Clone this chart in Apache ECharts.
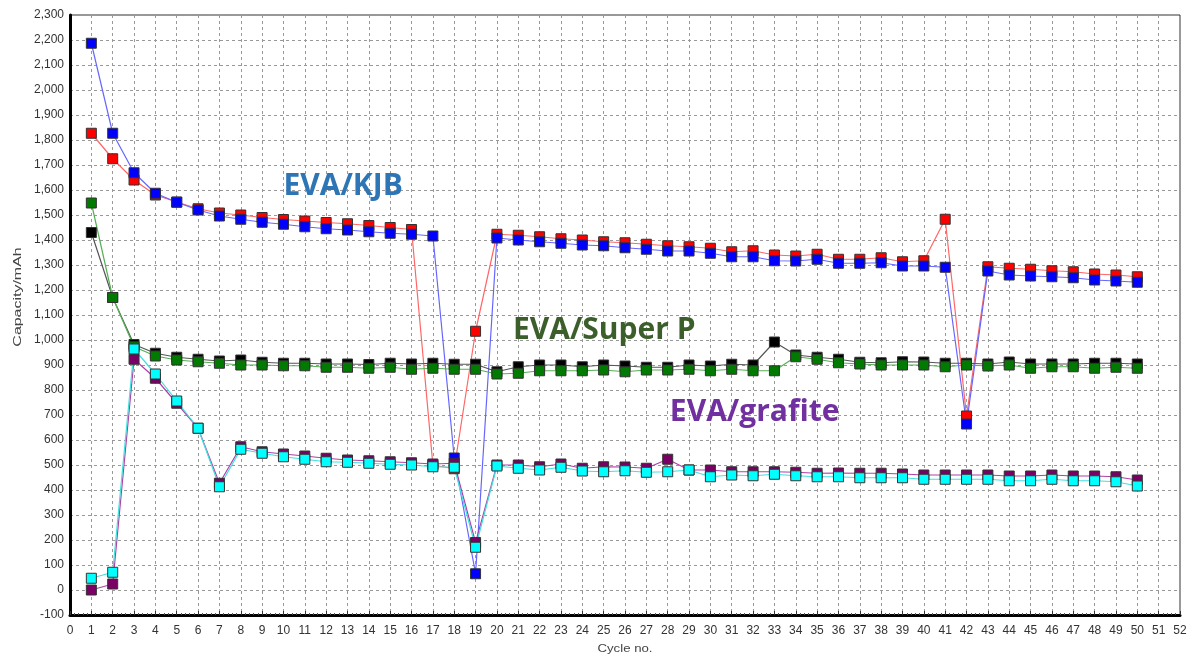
<!DOCTYPE html>
<html><head><meta charset="utf-8">
<script src="https://cdn.jsdelivr.net/npm/echarts@6/dist/echarts.min.js"></script>
<style>html,body{margin:0;padding:0;background:#fff}#c{width:1194px;height:657px}</style>
</head><body><div id="c"></div>
<script>
const cycles = [1,2,3,4,5,6,7,8,9,10,11,12,13,14,15,16,17,18,19,20,21,22,23,24,25,26,27,28,29,30,31,32,33,34,35,36,37,38,39,40,41,42,43,44,45,46,47,48,49,50];
const kjbRed = [1827,1725,1640,1580,1552,1525,1508,1500,1490,1482,1476,1470,1465,1458,1450,1442,500,485,1035,1423,1419,1413,1405,1400,1393,1389,1383,1377,1373,1367,1353,1357,1340,1336,1343,1323,1323,1329,1313,1317,1483,696,1293,1287,1283,1277,1273,1264,1260,1253];
const kjbBlue = [2187,1827,1669,1587,1551,1520,1496,1483,1471,1463,1453,1445,1440,1433,1427,1423,1416,528,65,1408,1400,1393,1387,1380,1377,1369,1363,1356,1356,1347,1333,1333,1317,1316,1323,1307,1307,1309,1296,1296,1291,664,1276,1260,1256,1253,1249,1240,1236,1231];
const spBlack = [1430,1170,982,947,931,923,916,920,911,907,907,904,904,902,907,904,907,903,903,873,893,900,900,893,900,896,891,891,900,896,903,900,992,940,931,923,911,909,913,912,907,907,904,912,904,904,904,907,907,904];
const spGreen = [1548,1170,973,936,920,913,907,900,900,897,897,891,891,887,891,883,887,883,883,864,867,877,877,877,880,873,880,880,883,877,883,877,877,933,923,909,904,900,900,900,893,900,896,900,887,893,893,887,891,887];
const grPurple = [0,24,923,847,747,647,427,573,553,544,536,527,520,517,513,509,504,507,190,500,500,493,504,487,493,492,487,523,480,480,473,473,473,471,467,468,467,467,464,460,460,460,460,456,456,460,456,456,453,440];
const grCyan = [47,71,964,864,756,647,413,563,547,533,523,513,511,507,503,500,493,491,171,496,487,480,491,476,473,477,471,473,480,453,460,457,463,457,453,453,449,449,449,443,443,443,443,437,437,443,437,437,433,416];
const labels = [
  {text:'EVA/KJB', x:10, y:1624, color:'#2e75b6'},
  {text:'EVA/Super P', x:20.75, y:1048, color:'#3b5e2b'},
  {text:'EVA/grafite', x:28.1, y:720, color:'#7030a0'}
];
const yName = 'Capacity/mAh';
const xName = 'Cycle no.';

const chart = echarts.init(document.getElementById('c'), null, {renderer:'canvas'});
function ser(name, vals, fill, line){
  return {name, type:'line', data: cycles.map((c,i)=>[c, vals[i]]),
    symbol:'rect', symbolSize:10, showAllSymbol:true,
    itemStyle:{color:fill, borderColor:'#333', borderWidth:1},
    lineStyle:{color:line, width:1.2}, emphasis:{disabled:true}, animation:false};
}
const axisFont = {fontFamily:'Liberation Sans', fontSize:12, color:'#333'};
chart.setOption({
  animation:false,
  grid:{left:70, right:14, top:15, bottom:42, containLabel:false, outerBoundsMode:'none',
    show:true, borderColor:'#333', borderWidth:1},
  xAxis:{type:'value', min:0, max:52, interval:1,
    axisLine:{show:true, onZero:false, lineStyle:{color:'#000', width:3}},
    axisTick:{show:true, inside:true, length:4, lineStyle:{color:'#333'}},
    minorTick:{show:true, splitNumber:5, length:2, lineStyle:{color:'#555'}},
    axisLabel:Object.assign({margin:10}, axisFont),
    splitLine:{show:true, lineStyle:{color:'#999', type:[3,3]}}
  },
  yAxis:{type:'value', min:-100, max:2300, interval:100,
    axisLine:{show:true, lineStyle:{color:'#000', width:3}},
    axisTick:{show:false},
    axisLabel:Object.assign({margin:6, formatter:v=>v.toLocaleString('en-US')}, axisFont),
    splitLine:{show:true, lineStyle:{color:'#999', type:[3,3]}}
  },
  series:[
    ser('KJB red', kjbRed, '#ff0000', '#ff6666'),
    ser('KJB blue', kjbBlue, '#0000ff', '#6666ff'),
    ser('SP black', spBlack, '#000000', '#555555'),
    ser('SP green', spGreen, '#007a00', '#55b055'),
    ser('GR purple', grPurple, '#7a0066', '#b040a8'),
    ser('GR cyan', grCyan, '#00ffff', '#40e0e0')
  ]
});
const gfx = labels.map(l=>{
  const p = chart.convertToPixel({gridIndex:0}, [l.x, l.y]);
  return {type:'text', x:p[0], y:p[1]+2, z:100,
    style:{text:l.text, fill:l.color, font:'bold 30px "Open Sans"', verticalAlign:'middle'}};
});
gfx.push({type:'text', x:18, y:297, rotation:Math.PI/2, scaleX:1.45, z:100,
  style:{text:yName, fill:'#444', font:'11px "Liberation Sans"', align:'center', verticalAlign:'middle'}});
gfx.push({type:'text', x:625, y:649, scaleX:1.2, z:100,
  style:{text:xName, fill:'#444', font:'11px "Liberation Sans"', align:'center', verticalAlign:'middle'}});
chart.setOption({graphic: gfx});
</script></body></html>
